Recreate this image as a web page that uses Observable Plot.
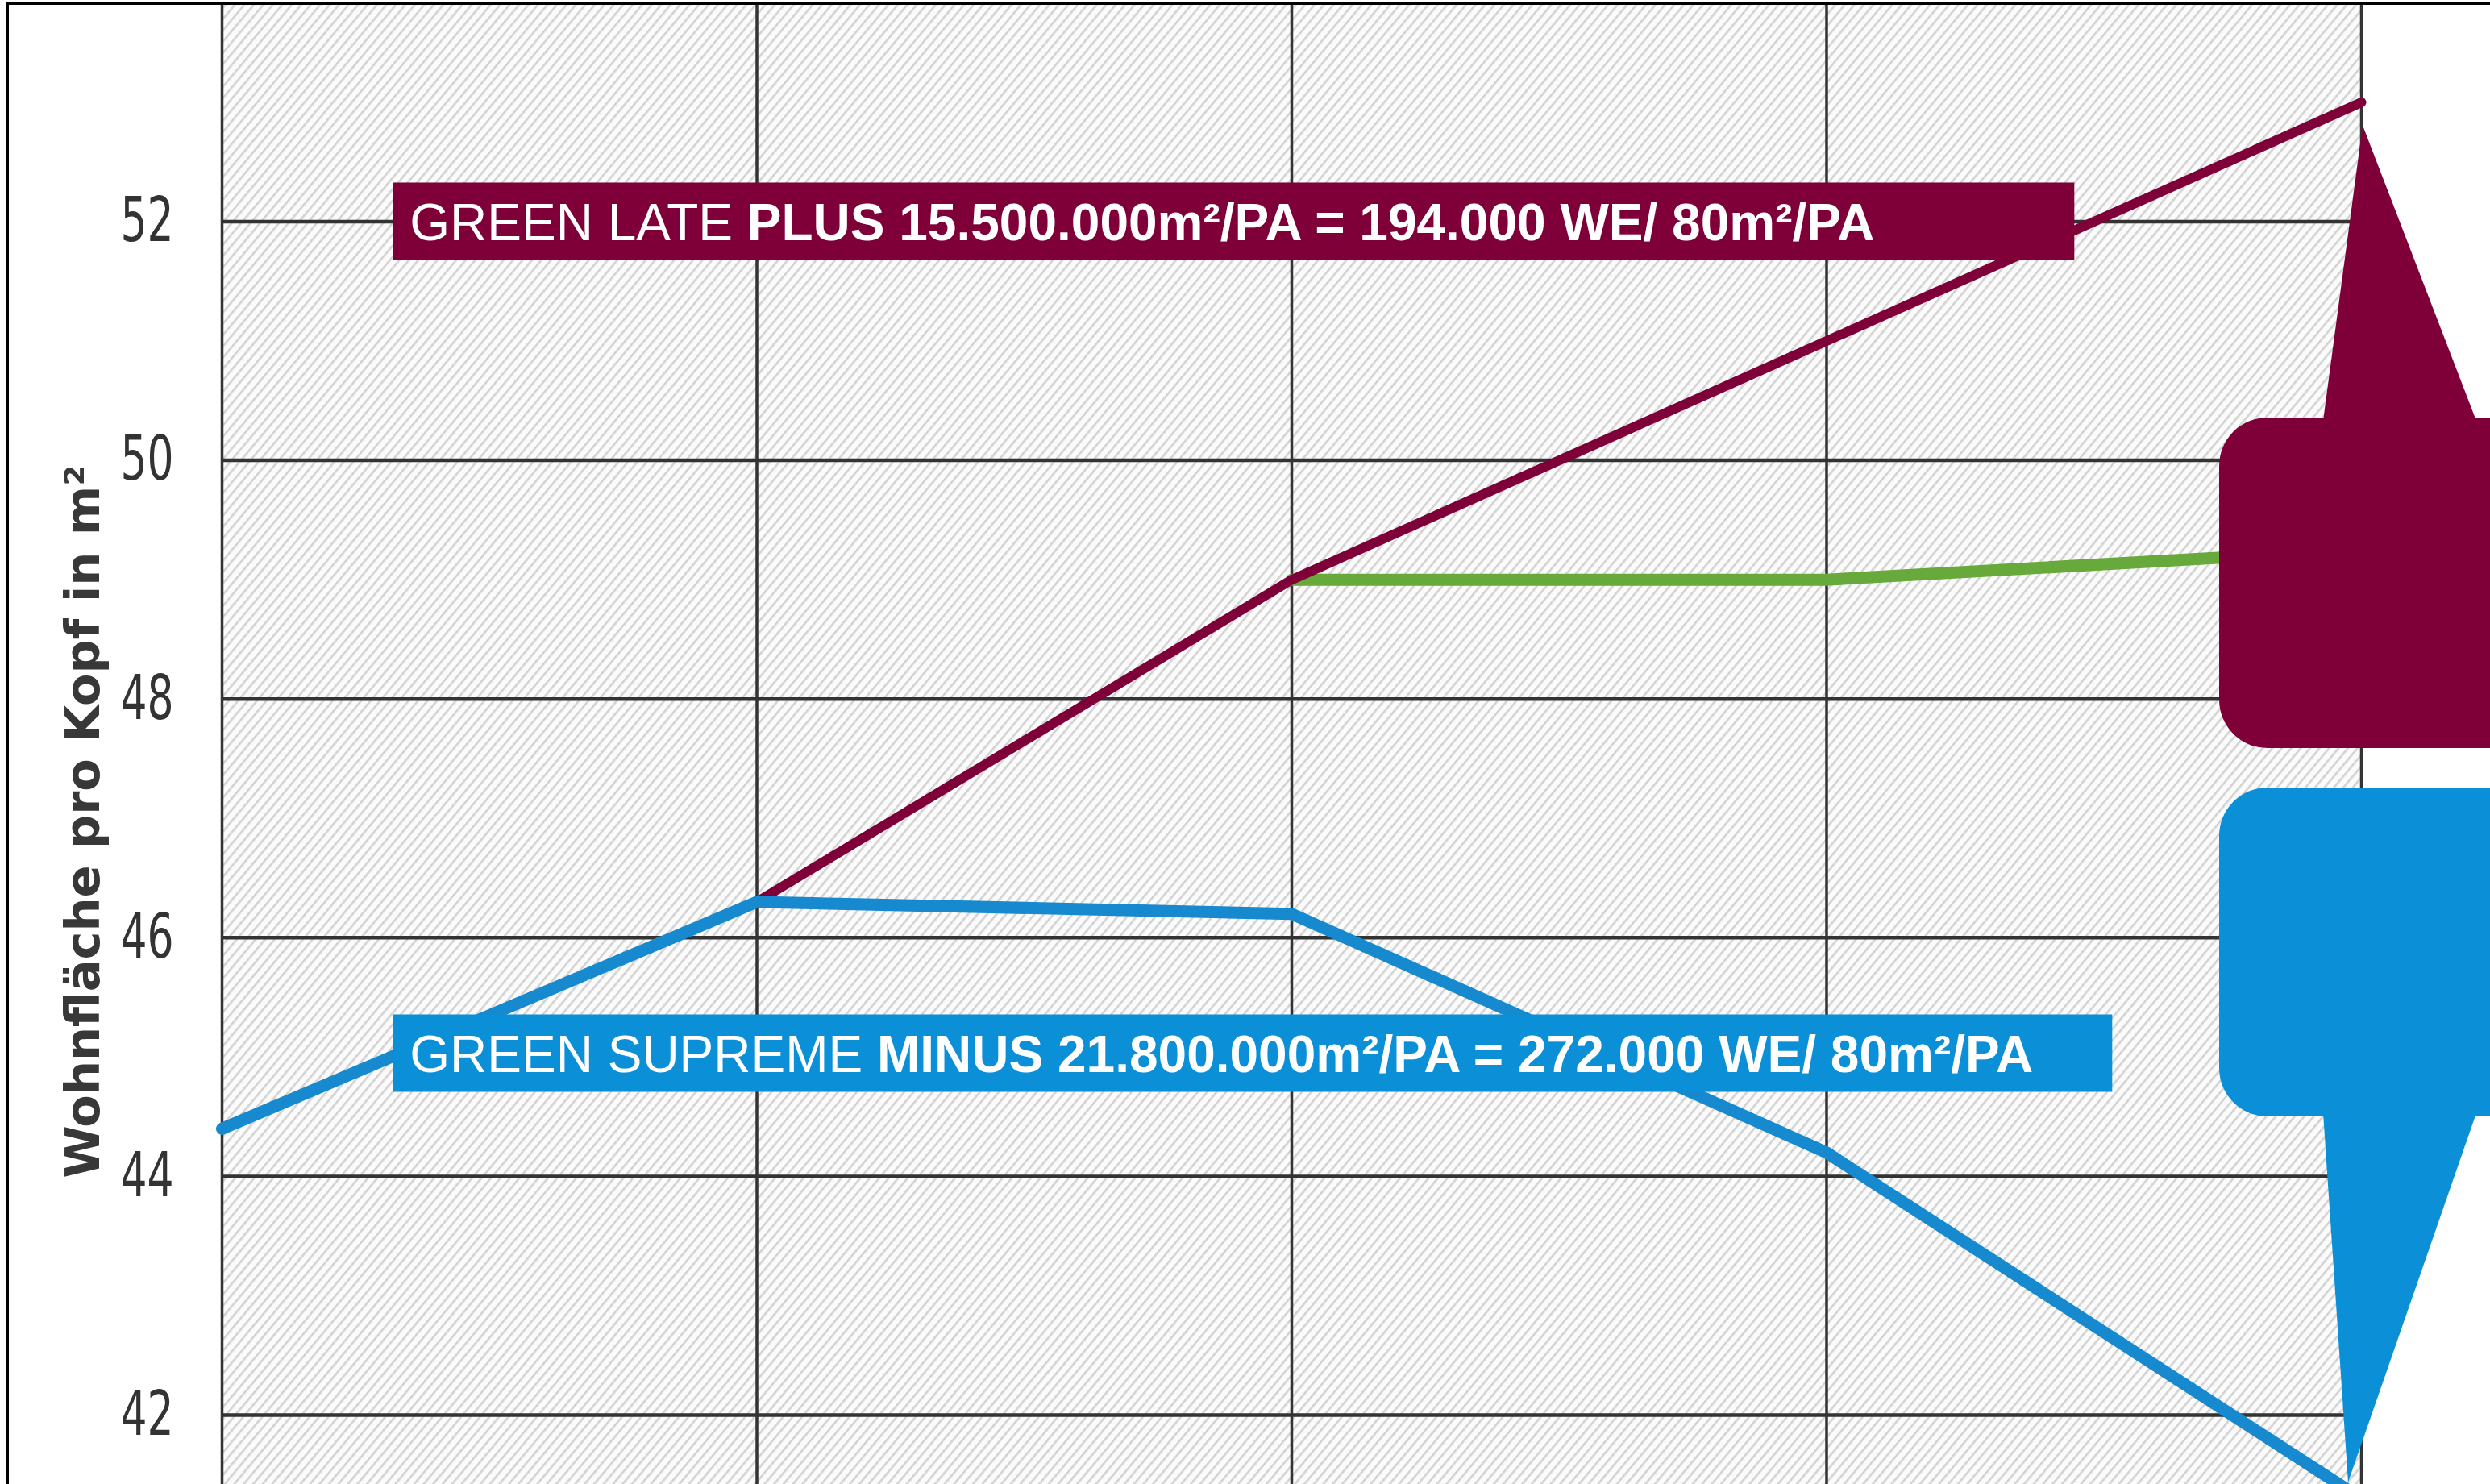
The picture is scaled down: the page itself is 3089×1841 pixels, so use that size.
<!DOCTYPE html>
<html>
<head>
<meta charset="utf-8">
<script src="https://cdn.jsdelivr.net/npm/d3@7"></script>
<script src="https://cdn.jsdelivr.net/npm/@observablehq/plot@0.6"></script>
<style>
html, body { margin: 0; padding: 0; background: #fff; }
#wrap { position: relative; width: 3089px; height: 1841px; overflow: hidden; }
#wrap svg { position: absolute; left: 0; top: 0; }
#border { position: absolute; left: 8px; top: 3px; right: -20px; bottom: -20px;
  border-top: 3px solid #000; border-left: 3px solid #000; pointer-events: none; }
</style>
</head>
<body>
<div id="wrap"><div id="border"></div></div>
<script>
// ---- data ----
const gridYears = [2010, 2020, 2030, 2040, 2050];
const yTicks = [42, 44, 46, 48, 50, 52];

const supremeYears = [2010, 2020, 2030, 2040, 2050];
const supremeValues = [44.4, 46.3, 46.2, 44.2, 41.3];

const lateYears = [2020, 2030, 2040, 2050];
const lateValues = [46.3, 49.0, 51.0, 53.0];

const greenYears = [2030, 2040, 2050];
const greenValues = [49.0, 49.0, 49.25];

const yLabel = "Wohnfläche pro Kopf in m²";
const labelRegular = ["GREEN LATE ", "GREEN SUPREME "];
const labelBold = ["PLUS 15.500.000m²/PA = 194.000 WE/ 80m²/PA", "MINUS 21.800.000m²/PA = 272.000 WE/ 80m²/PA"];
const labelCenterValue = [52, 45.03];
const labelLeftYear = 2013.2;

// ---- styles ----
const maroon = "#7f0038";
const boxBlue = "#0b8fd7";
const lineBlue = "#1689cf";
const green = "#67a93a";
const gridColor = "#333333";
const labelColors = [maroon, boxBlue];
const labelWidths = [2086, 2133];

const toRows = (xs, ys) => xs.map((x, i) => ({x, y: ys[i]}));

function labelBoxes(index, scales) {
  const {x, y} = scales;
  const g = d3.create("svg:g");
  labelRegular.forEach((reg, i) => {
    const x0 = x(labelLeftYear);
    const cy = y(labelCenterValue[i]);
    g.append("rect")
      .attr("x", x0).attr("y", cy - 48)
      .attr("width", labelWidths[i]).attr("height", 96)
      .attr("fill", labelColors[i]);
    const t = g.append("text")
      .attr("x", x0 + 21).attr("y", cy + 24)
      .attr("text-anchor", "start")
      .attr("fill", "#fff")
      .attr("font-family", "'Liberation Sans', Arial, sans-serif")
      .attr("font-size", 64)
      .style("white-space", "pre");
    t.append("tspan").text(reg);
    t.append("tspan").attr("font-weight", "bold").text(labelBold[i]);
  });
  return g.node();
}

function axisLabel(index, scales, values, dims) {
  const g = d3.create("svg:g");
  const cy = scales.y(46.97);
  g.append("text")
    .attr("transform", `translate(${dims.marginLeft - 173},${cy}) rotate(-90)`)
    .attr("text-anchor", "middle")
    .attr("dominant-baseline", "central")
    .attr("fill", "#383838")
    .attr("font-family", "'DejaVu Sans', Verdana, sans-serif")
    .attr("font-weight", "bold")
    .attr("font-size", 59)
    .text(yLabel);
  return g.node();
}

function callouts(index, scales) {
  const {x, y} = scales;
  const g = d3.create("svg:g");
  const ex = x(lateYears[lateYears.length - 1]);
  // maroon callout (arrow up to GREEN LATE end point)
  const topApex = y(lateValues[lateValues.length - 1]) + 29;
  g.append("rect").attr("x", ex - 176).attr("y", 518).attr("width", 700).attr("height", 410)
    .attr("rx", 60).attr("fill", maroon);
  g.append("path").attr("d", `M${ex + 2},${topApex} L${ex - 47},${522} L${ex + 143},${522} Z`).attr("fill", maroon);
  // blue callout (arrow down to GREEN SUPREME end point)
  const botApex = y(supremeValues[supremeValues.length - 1]) - 20;
  g.append("rect").attr("x", ex - 176).attr("y", 977).attr("width", 700).attr("height", 408)
    .attr("rx", 60).attr("fill", boxBlue);
  g.append("path").attr("d", `M${ex - 16},${botApex} L${ex - 47},${1381} L${ex + 143},${1381} Z`).attr("fill", boxBlue);
  return g.node();
}

const chart = Plot.plot({
  width: 3089,
  height: 1841,
  marginLeft: 275,
  marginRight: 160,
  marginTop: 5,
  marginBottom: 0,
  style: {background: "transparent", overflow: "hidden"},
  x: {domain: [2010, 2050], axis: null},
  y: {domain: [41.42, 53.82]},
  marks: [
    Plot.frame({fill: "url(#hatch)", stroke: "none"}),
    Plot.gridY(yTicks, {stroke: gridColor, strokeOpacity: 1, strokeWidth: 4.5}),
    Plot.gridX(gridYears, {stroke: gridColor, strokeOpacity: 1, strokeWidth: 3.5}),
    Plot.axisY(yTicks, {
      tickSize: 0, tickPadding: 60, fontSize: 76, tickFormat: d => String(d),
      fontFamily: "'Liberation Sans Narrow', 'DejaVu Sans Condensed', 'Roboto Condensed', sans-serif",
      fill: "#333", label: null
    }),
    axisLabel,
    Plot.line(toRows(greenYears, greenValues), {x: "x", y: "y", stroke: green, strokeWidth: 15, strokeLinejoin: "round"}),
    Plot.line(toRows(lateYears, lateValues), {x: "x", y: "y", stroke: maroon, strokeWidth: 12, strokeLinejoin: "round"}),
    Plot.line(toRows(supremeYears, supremeValues), {x: "x", y: "y", stroke: lineBlue, strokeWidth: 15, strokeLinejoin: "round"}),
    labelBoxes,
    callouts
  ]
});

// narrow the tick label glyphs (condensed look), keeping their right edge
const tickStrings = new Set(yTicks.map(String));
d3.select(chart).selectAll("text").each(function() {
  if (!tickStrings.has(this.textContent.trim())) return;
  const tr = this.getAttribute("transform");
  const x = +this.getAttribute("x") || 0, y = +this.getAttribute("y") || 0;
  const local = `translate(${x},${y}) scale(0.76,1) translate(${-x},${-y})`;
  this.setAttribute("transform", (tr ? tr + " " : "") + local);
});

const defs = d3.select(chart).insert("defs", ":first-child");
const pat = defs.append("pattern")
  .attr("id", "hatch")
  .attr("patternUnits", "userSpaceOnUse")
  .attr("width", 9).attr("height", 9)
  .attr("patternTransform", "rotate(40)");
pat.append("rect").attr("width", 9).attr("height", 9).attr("fill", "#fbfbfb");
pat.append("rect").attr("width", 2.6).attr("height", 9).attr("fill", "#d2d2d2");

const wrap = document.getElementById("wrap");
wrap.insertBefore(chart, document.getElementById("border"));
</script>
</body>
</html>
